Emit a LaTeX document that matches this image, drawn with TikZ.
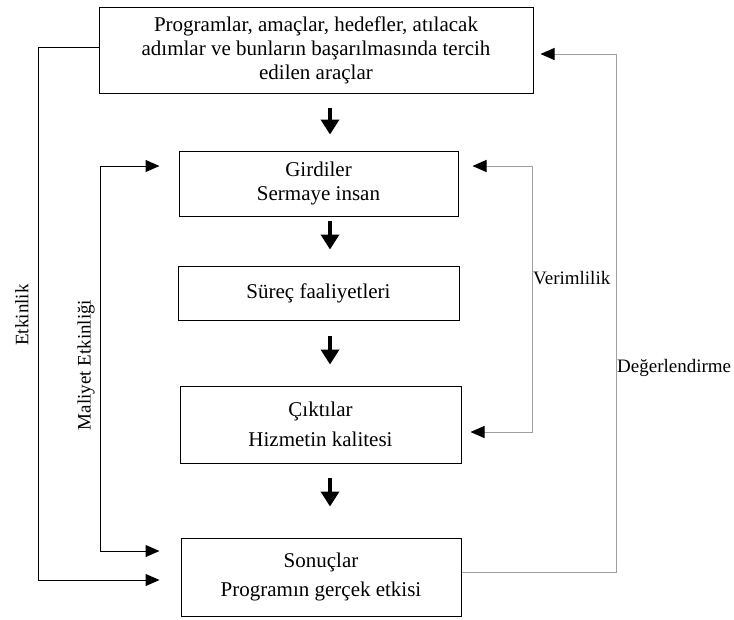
\documentclass[tikz,border=0pt]{standalone}
\usepackage{fontspec}
\setmainfont{Liberation Serif}
\usetikzlibrary{arrows.meta,positioning,calc}
\tikzset{
  kutu/.style={draw=black,line width=1pt,align=center,font=\fontsize{21}{24}\selectfont,inner sep=2pt},
  akis/.style={-{Triangle[length=15pt,width=18pt]},line width=3.5pt},
  geri/.style={>={Triangle[length=14pt,width=12pt,black]},line width=1pt},
  etiket/.style={font=\fontsize{19}{22}\selectfont,inner sep=0pt},
}
\begin{document}
\begin{tikzpicture}[x=1pt,y=-1pt]
  \useasboundingbox (0,0) rectangle (734,619);
  % kutular
  \node[kutu,minimum width=434pt,minimum height=86pt] (prog) at (316,50) {Programlar, amaçlar, hedefler, atılacak\\adımlar ve bunların başarılmasında tercih\\edilen araçlar};
  \node[kutu,minimum width=279pt,minimum height=65pt] (gir) at (318.5,183.5) {Girdiler\\Sermaye insan};
  \node[kutu,minimum width=281pt,minimum height=54pt] (sur) at (318.5,293) {Süreç faaliyetleri};
  \node[kutu,minimum width=281pt,minimum height=77pt] (cik) at (320.5,424.5) {Çıktılar\\[6pt]Hizmetin kalitesi};
  \node[kutu,minimum width=280pt,minimum height=78pt] (son) at (321,577) {Sonuçlar\\[5pt]Programın gerçek etkisi};
  % ana akış
  \draw[akis,shorten <=14pt,shorten >=16pt] ($(prog.south)+(14,0)$) -- ($(prog.south|-gir.north)+(14,0)$);
  \draw[akis,shorten <=4pt,shorten >=16pt] ($(gir.south)+(11.5,0)$) -- ($(gir.south|-sur.north)+(11.5,0)$);
  \draw[akis,shorten <=15pt,shorten >=21pt] ($(sur.south)+(11.5,0)$) -- ($(sur.south|-cik.north)+(11.5,0)$);
  \draw[akis,shorten <=14pt,shorten >=31pt] ($(cik.south)+(9.5,0)$) -- ($(cik.south|-son.north)+(9.5,0)$);
  % geri besleme hatları
  \draw[geri,->] ([yshift=3pt]prog.west) -- (38,47) -- (38,580) -- ([xshift=-21pt,yshift=-3pt]son.west);
  \draw[geri,<->] ([xshift=-19pt,yshift=17.5pt]gir.west) -- (100,166) -- (100,551) -- ([xshift=-21pt,yshift=26pt]son.west);
  \draw[geri,<->,draw=gray!75] ([xshift=14pt,yshift=17.5pt]gir.east) -- (532,166) -- (532,432) -- ([xshift=9pt,yshift=-7.5pt]cik.east);
  \draw[geri,->,draw=gray!75] ([yshift=5pt]son.east) -- (616,572) -- (616,54) -- ([xshift=7pt,yshift=-4pt]prog.east);
  % etiketler
  \node[etiket,rotate=90] (etk) at (22,315) {Etkinlik};
  \node[etiket,rotate=90] (mal) at (86,365) {Maliyet Etkinliği};
  \node[etiket,anchor=west] (ver) at (533,278) {Verimlilik};
  \node[etiket,anchor=west] (deg) at (617,368) {Değerlendirme};
\end{tikzpicture}
\end{document}
